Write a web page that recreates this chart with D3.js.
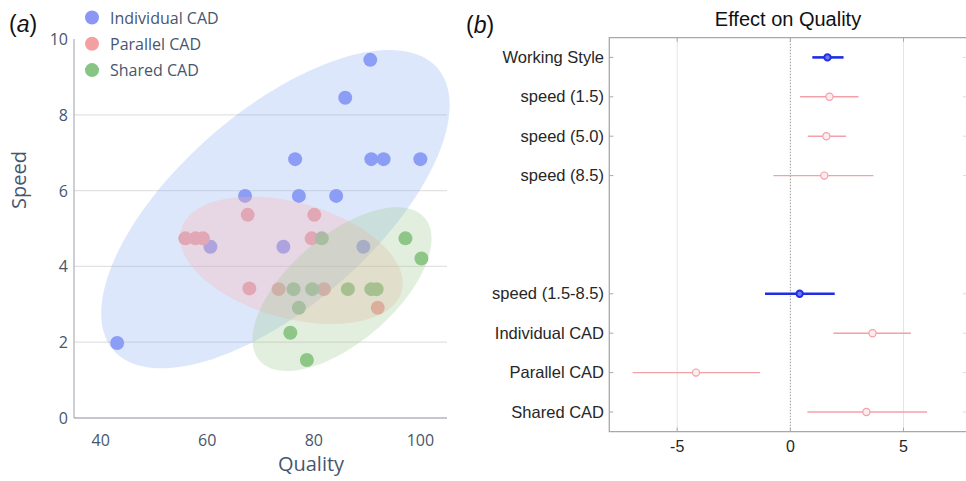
<!DOCTYPE html>
<html>
<head>
<meta charset="utf-8">
<script src="https://cdn.jsdelivr.net/npm/d3@7"></script>
<style>
  body { margin: 0; background: #fff; }
  svg { display: block; }
</style>
</head>
<body>
<svg id="chart" width="966" height="481"></svg>
<script>
// ---- panel (a): quality vs speed per working style ----
const groups = ["Individual CAD", "Parallel CAD", "Shared CAD"];
const individualQuality = [43.1, 90.6, 85.9, 76.5, 90.8, 93.1, 100.0, 67.1, 77.2, 84.2, 60.6, 74.3, 89.3];
const individualSpeed   = [1.98, 9.45, 8.45, 6.83, 6.83, 6.83, 6.83, 5.86, 5.86, 5.86, 4.52, 4.52, 4.52];
const parallelQuality   = [55.9, 57.8, 59.2, 67.6, 80.1, 67.9, 79.6, 73.4, 81.9, 92.0];
const parallelSpeed     = [4.74, 4.74, 4.74, 5.36, 5.36, 3.42, 4.74, 3.40, 3.40, 2.91];
const sharedQuality     = [81.5, 97.2, 100.2, 76.2, 79.7, 86.4, 90.8, 91.8, 77.2, 75.6, 78.7];
const sharedSpeed       = [4.74, 4.74, 4.21, 3.40, 3.40, 3.40, 3.40, 3.40, 2.91, 2.25, 1.53];

// spread ellipse of each group: centre, half extent along each axis, correlation
const ellipseCenterQuality = [72.8, 75.8, 85.3];
const ellipseCenterSpeed   = [5.51, 4.16, 3.40];
const ellipseHalfQuality   = [32.7, 20.9, 16.8];
const ellipseHalfSpeed     = [4.2, 1.68, 2.16];
const ellipseCorrelation   = [0.654, -0.36, 0.615];

const qualityTicks = [40, 60, 80, 100];
const speedTicks = [0, 2, 4, 6, 8, 10];

// ---- panel (b): model effects on quality ----
const effectTerms    = ["Working Style", "speed (1.5)", "speed (5.0)", "speed (8.5)",
                        "speed (1.5-8.5)", "Individual CAD", "Parallel CAD", "Shared CAD"];
const effectRow      = [0, 1, 2, 3, 6, 7, 8, 9];
const effectEstimate = [1.64, 1.73, 1.59, 1.50, 0.41, 3.63, -4.17, 3.36];
const effectLower    = [0.97, 0.43, 0.77, -0.75, -1.12, 1.90, -6.97, 0.75];
const effectUpper    = [2.35, 3.01, 2.46, 3.67, 1.96, 5.33, -1.34, 6.04];
const effectIsMain   = [true, false, false, false, true, false, false, false];
const effectTicks    = [-5, 0, 5];

const svg = d3.select("#chart");

// ================= panel (a) =================
const pointColor = ["#8b96f7", "#f4a0a0", "#86c583"];
const ellipseColor = ["rgb(142,175,242)", "rgb(255,176,172)", "rgb(158,202,146)"];
const ink = "#46566f";
const fontA = "'Open Sans', sans-serif";

const xA = d3.scaleLinear().domain([35, 105]).range([74, 447]);
const yA = d3.scaleLinear().domain([0, 10]).range([418, 39]);

const gA = svg.append("g");

// horizontal grid
gA.append("g").selectAll("line")
  .data(speedTicks.filter(v => v > 0 && v < 10))
  .join("line")
  .attr("x1", xA.range()[0]).attr("x2", xA.range()[1])
  .attr("y1", d => yA(d)).attr("y2", d => yA(d))
  .attr("stroke", "#e2e2e2").attr("stroke-width", 1.2);

// points
const series = [
  d3.zip(individualQuality, individualSpeed),
  d3.zip(parallelQuality, parallelSpeed),
  d3.zip(sharedQuality, sharedSpeed)
];
series.forEach((pts, i) => {
  gA.append("g").selectAll("circle")
    .data(pts)
    .join("circle")
    .attr("cx", d => xA(d[0]))
    .attr("cy", d => yA(d[1]))
    .attr("r", 7)
    .attr("fill", pointColor[i]);
});

// translucent spread ellipses laid over the points
const tSteps = d3.range(0, 361, 3).map(a => a * Math.PI / 180);
groups.forEach((g, i) => {
  const cq = ellipseCenterQuality[i], cs = ellipseCenterSpeed[i];
  const hq = ellipseHalfQuality[i], hs = ellipseHalfSpeed[i], r = ellipseCorrelation[i];
  const path = tSteps.map(t => [
    xA(cq + hq * Math.cos(t)),
    yA(cs + hs * (r * Math.cos(t) + Math.sqrt(1 - r * r) * Math.sin(t)))
  ]);
  gA.append("path")
    .attr("d", d3.line()(path) + "Z")
    .attr("fill", ellipseColor[i])
    .attr("fill-opacity", 0.3)
    .attr("stroke", "none");
});

// axes lines
gA.append("line")
  .attr("x1", xA.range()[0]).attr("x2", xA.range()[0])
  .attr("y1", yA(10)).attr("y2", yA(0))
  .attr("stroke", "#9aa0aa").attr("stroke-width", 1);
gA.append("line")
  .attr("x1", xA.range()[0]).attr("x2", xA.range()[1])
  .attr("y1", yA(0)).attr("y2", yA(0))
  .attr("stroke", "#8a909a").attr("stroke-width", 1.2);

// tick labels
gA.append("g").selectAll("text")
  .data(speedTicks)
  .join("text")
  .attr("x", 68).attr("y", d => yA(d) + 6)
  .attr("text-anchor", "end")
  .attr("font-family", fontA).attr("font-size", 16)
  .attr("fill", ink)
  .text(d => d);
gA.append("g").selectAll("text")
  .data(qualityTicks)
  .join("text")
  .attr("x", d => xA(d)).attr("y", 446)
  .attr("text-anchor", "middle")
  .attr("font-family", fontA).attr("font-size", 16)
  .attr("fill", ink)
  .text(d => d);

// axis titles
gA.append("text")
  .attr("x", 311).attr("y", 471)
  .attr("text-anchor", "middle")
  .attr("font-family", fontA).attr("font-size", 20)
  .attr("fill", ink)
  .text("Quality");
gA.append("text")
  .attr("transform", "translate(26,180) rotate(-90)")
  .attr("text-anchor", "middle")
  .attr("font-family", fontA).attr("font-size", 20)
  .attr("fill", ink)
  .text("Speed");

// legend
const legend = gA.append("g").selectAll("g")
  .data(groups)
  .join("g")
  .attr("transform", (d, i) => `translate(92,${17.5 + i * 26.3})`);
legend.append("circle").attr("r", 7).attr("fill", (d, i) => pointColor[i]);
legend.append("text")
  .attr("x", 18).attr("y", 6)
  .attr("font-family", fontA).attr("font-size", 16)
  .attr("fill", ink)
  .text(d => d);

// panel letter
svg.append("text")
  .attr("x", 9).attr("y", 32)
  .attr("font-family", "'Liberation Sans', Arial, sans-serif").attr("font-size", 23)
  .attr("fill", "#111")
  .html("(<tspan font-style='italic'>a</tspan>)");

// ================= panel (b) =================
const fontB = "'Liberation Sans', Arial, sans-serif";
const xB = d3.scaleLinear().domain([-8, 7.8]).range([609.3, 966.9]);
const yB = d3.scaleLinear().domain([-0.5, 9.5]).range([37.7, 431.7]);
const gB = svg.append("g");

const boxLeft = xB.range()[0], boxRight = xB.range()[1];
const boxTop = yB(-0.5), boxBottom = yB(9.5);

// vertical grid
gB.append("g").selectAll("line")
  .data(effectTicks)
  .join("line")
  .attr("x1", d => xB(d)).attr("x2", d => xB(d))
  .attr("y1", boxTop).attr("y2", boxBottom)
  .attr("stroke", d => d === 0 ? "#9a9a9a" : "#e4e4e4")
  .attr("stroke-width", 1)
  .attr("stroke-dasharray", d => d === 0 ? "1.5,1.5" : null);

// box
gB.append("path")
  .attr("d", `M${boxLeft},${boxBottom}L${boxLeft},${boxTop}L${boxRight},${boxTop}L${boxRight},${boxBottom}Z`)
  .attr("fill", "none").attr("stroke", "#a8a8a8").attr("stroke-width", 1.3);

// ticks on all sides, pointing inward
gB.append("g").selectAll("line")
  .data(effectRow)
  .join("line")
  .attr("x1", boxLeft).attr("x2", boxLeft + 4)
  .attr("y1", d => yB(d)).attr("y2", d => yB(d))
  .attr("stroke", "#a8a8a8");
gB.append("g").selectAll("line")
  .data(effectRow)
  .join("line")
  .attr("x1", boxRight).attr("x2", boxRight - 4)
  .attr("y1", d => yB(d)).attr("y2", d => yB(d))
  .attr("stroke", "#dcdcdc");
gB.append("g").selectAll("line")
  .data(effectTicks)
  .join("line")
  .attr("x1", d => xB(d)).attr("x2", d => xB(d))
  .attr("y1", boxTop).attr("y2", boxTop + 4)
  .attr("stroke", "#a8a8a8");
gB.append("g").selectAll("line")
  .data(effectTicks)
  .join("line")
  .attr("x1", d => xB(d)).attr("x2", d => xB(d))
  .attr("y1", boxBottom).attr("y2", boxBottom - 4)
  .attr("stroke", "#a8a8a8");

// intervals and estimates
const effects = effectTerms.map((t, i) => ({
  term: t, row: effectRow[i], est: effectEstimate[i],
  lo: effectLower[i], hi: effectUpper[i], main: effectIsMain[i]
}));
const mainColor = "#1f2ee6", subColor = "#f3a0a8";
gB.append("g").selectAll("line")
  .data(effects)
  .join("line")
  .attr("x1", d => xB(d.lo)).attr("x2", d => xB(d.hi))
  .attr("y1", d => yB(d.row)).attr("y2", d => yB(d.row))
  .attr("stroke", d => d.main ? mainColor : subColor)
  .attr("stroke-width", d => d.main ? 2.6 : 1.4);
gB.append("g").selectAll("circle")
  .data(effects)
  .join("circle")
  .attr("cx", d => xB(d.est)).attr("cy", d => yB(d.row))
  .attr("r", d => d.main ? 3.2 : 3.6)
  .attr("fill", d => d.main ? "#6f78ee" : "#fcecee")
  .attr("stroke", d => d.main ? mainColor : subColor)
  .attr("stroke-width", d => d.main ? 2 : 1.2);

// labels
gB.append("g").selectAll("text")
  .data(effects)
  .join("text")
  .attr("x", 604).attr("y", d => yB(d.row) + 5.5)
  .attr("text-anchor", "end")
  .attr("font-family", fontB).attr("font-size", 16.5)
  .attr("fill", "#262626")
  .text(d => d.term);
gB.append("g").selectAll("text")
  .data(effectTicks)
  .join("text")
  .attr("x", d => xB(d)).attr("y", 452)
  .attr("text-anchor", "middle")
  .attr("font-family", fontB).attr("font-size", 16)
  .attr("fill", "#262626")
  .text(d => d);

gB.append("text")
  .attr("x", 788).attr("y", 26)
  .attr("text-anchor", "middle")
  .attr("font-family", fontB).attr("font-size", 20)
  .attr("fill", "#111")
  .text("Effect on Quality");

svg.append("text")
  .attr("x", 466).attr("y", 33)
  .attr("font-family", fontB).attr("font-size", 23)
  .attr("fill", "#111")
  .html("(<tspan font-style='italic'>b</tspan>)");
</script>
</body>
</html>
